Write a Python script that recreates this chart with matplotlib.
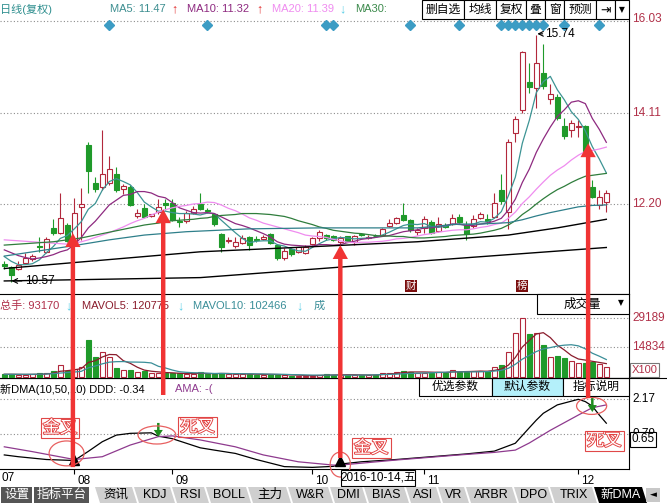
import matplotlib
matplotlib.use('Agg')
import matplotlib.pyplot as plt
import matplotlib.patheffects as pe
import matplotlib.transforms as mtransforms
from matplotlib.patches import Rectangle, Ellipse, Polygon, ConnectionPatch

plt.rcParams['font.family'] = ['Liberation Sans', 'Noto Sans CJK SC', 'DejaVu Sans']
plt.rcParams['font.size'] = 8

# ---------------- data ----------------
opens = [10.95, 10.88, 10.84, 10.97, 11.05, 11.33, 11.20, 11.70, 11.59, 11.76,
         11.43, 12.14, 13.43, 12.64, 12.55, 12.64, 12.83, 12.51, 12.56, 11.95,
         12.12, 11.95, 12.04, 12.22, 12.23, 11.85, 11.84, 12.02, 12.20, 12.08,
         11.99, 11.57, 11.42, 11.32, 11.39, 11.50, 11.46, 11.47, 11.57, 11.34,
         11.06, 11.26, 11.20, 11.18, 11.36, 11.48, 11.55, 11.53, 11.41, 11.52,
         11.41, 11.56, 11.49, 11.53, 11.55, 11.73, 11.80, 11.97, 11.86, 11.62,
         11.69, 11.83, 11.64, 11.76, 11.78, 11.93, 11.76, 11.73, 11.90, 11.88,
         11.93, 12.49, 12.04, 13.68, 14.17, 14.76, 14.62, 14.95, 14.39, 14.43,
         13.83, 13.75, 13.82, 13.83, 12.56, 12.18, 12.25]
highs = [11.00, 10.90, 11.00, 11.17, 11.15, 11.50, 11.50, 11.89, 12.43, 11.80,
         12.33, 12.53, 13.50, 12.77, 13.75, 13.20, 12.97, 12.62, 12.60, 12.10,
         12.20, 12.00, 12.30, 12.30, 12.30, 11.93, 12.05, 12.16, 12.42, 12.12,
         12.02, 11.60, 11.50, 11.50, 11.55, 11.52, 11.52, 11.55, 11.60, 11.36,
         11.28, 11.28, 11.31, 11.35, 11.50, 11.66, 11.58, 11.56, 11.52, 11.54,
         11.56, 11.60, 11.56, 11.57, 11.70, 11.88, 11.93, 12.22, 11.88, 11.70,
         11.95, 11.86, 11.92, 11.80, 12.00, 12.00, 11.85, 11.98, 12.03, 12.00,
         12.42, 12.83, 13.55, 14.05, 15.40, 15.14, 15.74, 15.55, 14.72, 14.50,
         14.00, 13.95, 13.95, 13.85, 12.70, 12.50, 12.50]
lows = [10.85, 10.57, 10.82, 10.95, 11.00, 11.20, 11.18, 11.55, 11.57, 11.41,
        11.41, 11.45, 12.43, 12.45, 12.50, 12.60, 12.45, 12.40, 12.15, 11.90,
        11.90, 11.92, 12.00, 12.08, 11.85, 11.72, 11.80, 12.00, 12.07, 12.02,
        11.75, 11.20, 11.38, 11.27, 11.36, 11.24, 11.40, 11.45, 11.36, 11.02,
        11.02, 11.12, 11.18, 11.16, 11.34, 11.42, 11.45, 11.43, 11.37, 11.40,
        11.35, 11.52, 11.47, 11.50, 11.53, 11.71, 11.78, 11.84, 11.62, 11.55,
        11.60, 11.58, 11.62, 11.70, 11.76, 11.80, 11.45, 11.70, 11.88, 11.78,
        11.90, 12.20, 11.68, 13.50, 14.10, 14.53, 14.20, 14.60, 14.30, 13.95,
        13.55, 13.60, 13.60, 13.25, 12.33, 12.10, 12.04]
closes = [10.90, 10.72, 10.92, 11.08, 11.11, 11.30, 11.47, 11.59, 11.91, 11.43,
          12.01, 12.20, 12.88, 12.51, 12.83, 12.93, 12.49, 12.58, 12.18, 12.02,
          11.93, 11.99, 12.14, 12.18, 11.86, 11.82, 12.01, 12.09, 12.09, 12.05,
          11.78, 11.31, 11.44, 11.40, 11.48, 11.34, 11.44, 11.51, 11.38, 11.06,
          11.22, 11.15, 11.29, 11.31, 11.48, 11.62, 11.48, 11.45, 11.48, 11.41,
          11.52, 11.55, 11.51, 11.52, 11.67, 11.80, 11.90, 11.86, 11.65, 11.65,
          11.88, 11.60, 11.79, 11.72, 11.90, 11.83, 11.57, 11.88, 11.99, 11.84,
          12.23, 12.27, 13.50, 13.97, 15.37, 14.65, 15.14, 14.67, 14.50, 13.99,
          13.62, 13.89, 13.84, 13.29, 12.35, 12.35, 12.44]

ma5 = [11.10, 11.00, 10.93, 10.93, 10.95, 11.03, 11.18, 11.31, 11.48, 11.54,
       11.68, 11.83, 12.09, 12.21, 12.49, 12.67, 12.73, 12.67, 12.60, 12.44,
       12.24, 12.14, 12.05, 12.05, 12.02, 12.00, 12.00, 11.99, 11.97, 12.01,
       12.00, 11.86, 11.73, 11.60, 11.48, 11.39, 11.42, 11.43, 11.43, 11.35,
       11.32, 11.26, 11.22, 11.21, 11.29, 11.37, 11.44, 11.47, 11.50, 11.49,
       11.47, 11.48, 11.49, 11.50, 11.55, 11.61, 11.68, 11.75, 11.78, 11.77,
       11.79, 11.73, 11.71, 11.73, 11.78, 11.77, 11.76, 11.78, 11.83, 11.82,
       11.90, 12.04, 12.37, 12.76, 13.47, 13.95, 14.53, 14.76, 14.87, 14.59,
       14.38, 14.13, 13.97, 13.73, 13.40, 13.14, 12.85]
ma10 = [11.24, 11.18, 11.12, 11.08, 11.05, 11.07, 11.10, 11.14, 11.20, 11.24,
        11.35, 11.50, 11.70, 11.84, 12.01, 12.18, 12.28, 12.38, 12.40, 12.46,
        12.46, 12.43, 12.36, 12.33, 12.23, 12.12, 12.07, 12.02, 12.01, 12.02,
        12.00, 11.93, 11.86, 11.79, 11.75, 11.70, 11.64, 11.58, 11.51, 11.41,
        11.36, 11.34, 11.33, 11.32, 11.32, 11.35, 11.35, 11.34, 11.35, 11.39,
        11.42, 11.46, 11.48, 11.50, 11.52, 11.54, 11.58, 11.62, 11.64, 11.66,
        11.70, 11.70, 11.73, 11.75, 11.78, 11.78, 11.75, 11.75, 11.78, 11.80,
        11.84, 11.90, 12.07, 12.30, 12.65, 12.93, 13.28, 13.56, 13.81, 14.03,
        14.17, 14.33, 14.36, 14.30, 13.99, 13.76, 13.49]
ma20 = [11.45, 11.44, 11.43, 11.42, 11.41, 11.40, 11.39, 11.38, 11.37, 11.36,
        11.38, 11.41, 11.45, 11.50, 11.55, 11.60, 11.66, 11.72, 11.79, 11.85,
        11.90, 11.97, 12.03, 12.08, 12.12, 12.15, 12.17, 12.20, 12.21, 12.24,
        12.23, 12.18, 12.11, 12.06, 11.99, 11.91, 11.86, 11.80, 11.76, 11.72,
        11.68, 11.64, 11.60, 11.55, 11.53, 11.52, 11.50, 11.46, 11.43, 11.40,
        11.39, 11.40, 11.40, 11.41, 11.42, 11.44, 11.47, 11.48, 11.50, 11.53,
        11.56, 11.58, 11.61, 11.63, 11.65, 11.66, 11.66, 11.68, 11.71, 11.73,
        11.77, 11.80, 11.90, 12.03, 12.21, 12.35, 12.51, 12.66, 12.80, 12.91,
        13.00, 13.12, 13.22, 13.30, 13.32, 13.35, 13.39]
ma30 = [11.34, 11.35, 11.36, 11.37, 11.38, 11.39, 11.40, 11.41, 11.43, 11.45,
        11.47, 11.49, 11.52, 11.55, 11.58, 11.61, 11.64, 11.67, 11.70, 11.73,
        11.76, 11.78, 11.80, 11.83, 11.85, 11.86, 11.87, 11.88, 11.90, 11.91,
        11.94, 11.96, 11.97, 11.98, 12.00, 12.00, 12.00, 11.99, 11.98, 11.96,
        11.94, 11.90, 11.85, 11.81, 11.77, 11.72, 11.69, 11.65, 11.63, 11.61,
        11.59, 11.58, 11.56, 11.54, 11.53, 11.53, 11.52, 11.52, 11.50, 11.49,
        11.49, 11.50, 11.51, 11.52, 11.54, 11.55, 11.56, 11.57, 11.59, 11.62,
        11.65, 11.69, 11.76, 11.85, 11.98, 12.08, 12.20, 12.31, 12.41, 12.50,
        12.57, 12.65, 12.72, 12.78, 12.80, 12.82, 12.84]
ma60_idx = [0, 5, 10, 15, 20, 26, 35, 45, 52, 59, 62, 65, 68, 72, 74, 76, 78, 80, 82, 84, 86]
ma60 = [11.11, 11.22, 11.33, 11.45, 11.55, 11.62, 11.68, 11.70, 11.70, 11.70, 11.74,
        11.78, 11.78, 11.81, 11.87, 11.95, 12.02, 12.08, 12.14, 12.17, 12.18]
ma120_idx = [0, 28, 46, 59, 72, 79, 86]
ma120 = [10.85, 11.20, 11.32, 11.41, 11.55, 11.70, 11.88]
ma250_idx = [0, 28, 59, 72, 86]
ma250 = [10.59, 10.66, 11.00, 11.14, 11.29]

volumes = [1630, 1630, 1140, 1140, 1630, 1980, 2280, 3120, 5940, 3120,
           3960, 5250, 18460, 10200, 12380, 10200, 4750, 3610, 3610, 2770,
           3120, 1980, 1980, 1980, 1980, 1980, 1630, 1630, 2620, 1490,
           1630, 2130, 1490, 1630, 1490, 1630, 1240, 1240, 1630, 1200,
           1000, 800, 800, 700, 800, 1300, 1700, 1300, 932, 1140,
           1300, 1300, 1000, 1140, 2280, 2280, 2770, 3120, 2770, 2280,
           2280, 2280, 2770, 2280, 3610, 2770, 2770, 3120, 3120, 3120,
           4950, 6090, 12670, 22080, 29189, 21430, 21760, 16000, 9900, 10550,
           9400, 8220, 7230, 7200, 7570, 6580, 5250]
mavol5 = [1500, 1500, 1450, 1400, 1434, 1504, 1634, 2030, 2990, 3288,
          3684, 4278, 7346, 8198, 10050, 11298, 11198, 8228, 6910, 4988,
          3572, 3018, 2692, 2366, 2208, 1980, 1910, 1840, 1968, 1870,
          1800, 1900, 1872, 1674, 1674, 1674, 1496, 1446, 1446, 1388,
          1262, 1174, 1086, 900, 820, 880, 1060, 1160, 1206, 1274,
          1274, 1194, 1134, 1176, 1404, 1600, 1894, 2318, 2644, 2644,
          2644, 2546, 2476, 2378, 2644, 2742, 2840, 2910, 3078, 2980,
          3416, 4080, 5990, 9782, 14996, 18292, 21426, 22092, 19656, 15928,
          13522, 10814, 9060, 8520, 7924, 7360, 6766]
mavol10 = [1500, 1500, 1500, 1500, 1500, 1550, 1650, 1800, 2100, 2361,
           2594, 2956, 4688, 5594, 6669, 7491, 7738, 7787, 7554, 7519,
           7435, 7108, 5460, 4638, 3598, 2776, 2464, 2266, 2167, 2039,
           1890, 1905, 1856, 1821, 1772, 1737, 1698, 1659, 1560, 1531,
           1468, 1335, 1266, 1173, 1104, 1071, 1117, 1123, 1053, 1047,
           1077, 1127, 1147, 1191, 1339, 1437, 1544, 1726, 1910, 2024,
           2122, 2220, 2397, 2511, 2644, 2693, 2693, 2693, 2728, 2812,
           3079, 3460, 4450, 6430, 8988, 10854, 12753, 14041, 14719, 15462,
           15907, 16120, 15576, 14088, 11926, 10441, 8790]

ddd_idx = [0, 2, 6, 10, 12, 14, 16, 18, 21, 22, 24, 26, 28, 30, 33, 36, 40, 44, 47, 48,
           51, 56, 61, 66, 70, 73, 75, 76, 77, 79, 82, 83, 84, 85, 86]
ddd = [-0.02, -0.09, -0.20, -0.24, 0.12, 0.50, 0.76, 0.83, 0.85, 0.72, 0.62, 0.44, 0.26,
       0.17, 0.04, -0.20, -0.48, -0.51, -0.47, -0.38, -0.29, -0.20, -0.09, 0.02, 0.13,
       0.44, 1.05, 1.35, 1.62, 1.95, 2.17, 2.08, 1.90, 1.55, 1.23]
ama_idx = [0, 4, 10, 14, 18, 22, 24, 28, 33, 37, 42, 47, 48, 56, 65, 70, 73, 75, 78, 82, 84, 86]
ama = [0.30, 0.11, -0.20, -0.09, 0.37, 0.70, 0.73, 0.57, 0.30, -0.02, -0.29, -0.42,
       -0.42, -0.22, -0.02, 0.08, 0.17, 0.45, 0.95, 1.55, 1.84, 1.95]

month_idx = [10, 24, 44, 60, 82]
month_labels = ['08', '09', '10', '11', '12']
info_idx = [15, 29, 46, 47, 58, 65, 71, 72, 73, 74, 75, 76, 77, 80, 85]
price_grid = [16.03, 14.11, 12.20]
vol_grid = [29189, 14834]
dma_grid = [2.17, 0.79]

golden_idx = [10, 48]
golden_val = [-0.22, -0.26]
dead_idx = [22, 84]
dead_tip = [0.69, 1.67]
dead_top = [1.24, 2.22]

arrow_idx = [9.8, 22.7, 48.0, 83.4]
arrow_tip = [11.59, 12.09, 11.34, 13.47]     # price panel
arrow_base = [-0.50, 2.34, -0.14, 2.22]      # DMA panel

cross_text = ['金叉', '死叉', '金叉', '死叉']
cross_x = [7.96, 27.6, 52.4, 85.7]
cross_y = [1.04, 1.08, 0.25, 0.53]
ring_x = [8.9, 21.8, 48.0, 83.9]
ring_y = [0.04, 0.765, -0.40, 1.91]
ring_w = [5.0, 5.4, 2.9, 4.3]
ring_h = [0.98, 0.71, 0.98, 0.67]

# ---------------- figure ----------------
W, H = 667, 504
RED = '#b2283c'
GREEN = '#1f9a2a'
ARROW = '#f03434'
LABEL = '#b03048'
CYAN = '#5ccfe8'

fig = plt.figure(figsize=(W / 100, H / 100), dpi=100)


def box(x0, y0, x1, y1):
    return [x0 / W, 1 - y1 / H, (x1 - x0) / W, (y1 - y0) / H]


ax_p = fig.add_axes(box(0, 19, 629, 294))
ax_v = fig.add_axes(box(0, 294, 629, 378))
ax_d = fig.add_axes(box(0, 378, 629, 469))
for ax in (ax_p, ax_v, ax_d):
    ax.set_xlim(-0.614, 89.24)
    ax.set_facecolor('none')
    ax.spines['top'].set_visible(False)
    ax.spines['left'].set_visible(False)
    ax.spines['right'].set_linewidth(0.8)
    ax.spines['bottom'].set_linewidth(0.8)
    ax.set_yticks([])
ax_p.set_xticks([])
ax_v.set_xticks([])
ax_p.set_ylim(10.317, 16.07)
ax_v.set_ylim(-346, 41234)
ax_d.set_ylim(-0.574, 3.009)

n = len(closes)
x = list(range(n))

# candles
up = [c >= o for o, c in zip(opens, closes)]
cols = [RED if u else GREEN for u in up]
body_lo = [min(o, c) for o, c in zip(opens, closes)]
body_hi = [max(o, c) for o, c in zip(opens, closes)]
body_h = [max(h - l, 0.012) for h, l in zip(body_hi, body_lo)]
ax_p.vlines(x, lows, body_lo, colors=cols, lw=0.8)
ax_p.vlines(x, body_hi, highs, colors=cols, lw=0.8)
ax_p.bar(x, body_h, bottom=body_lo, width=0.72,
         color=['white' if u else GREEN for u in up], edgecolor=cols, lw=0.8, zorder=3)

ax_p.plot(x, ma5, color='#3d9494', lw=0.9, zorder=4)
ax_p.plot(x, ma10, color='#8e2a80', lw=0.9, zorder=4)
ax_p.plot(x, ma20, color='#ef8cef', lw=0.9, zorder=4)
ax_p.plot(x, ma30, color='#2f7d3c', lw=0.9, zorder=4)
ax_p.plot(ma60_idx, ma60, color='#2e7f8a', lw=0.9, zorder=4)
ax_p.plot(ma120_idx, ma120, color='black', lw=1.0, zorder=4)
ax_p.plot(ma250_idx, ma250, color='black', lw=1.0, zorder=4)

grid_style = dict(color='#8c8c8c', lw=0.8, ls=(0, (1, 2)), zorder=1)
tp = mtransforms.blended_transform_factory(ax_p.transAxes, ax_p.transData)
for v in price_grid:
    ax_p.axhline(v, **grid_style)
    ax_p.text(1.005, v + (0.03 if v > 16 else 0), f'{v:.2f}', transform=tp, color=LABEL,
              va='center', ha='left', fontsize=8.5, clip_on=False)

td = mtransforms.blended_transform_factory(ax_p.transData, ax_p.transAxes)
ax_p.plot(info_idx, [0.978] * len(info_idx), ls='none', marker='D', ms=4.6,
          color='#3c9cc4', transform=td, clip_on=False)
ax_p.annotate('15.74', xy=(76.15, 15.76), xytext=(77.3, 15.76), va='center', ha='left',
              fontsize=8.5, arrowprops=dict(arrowstyle='->', lw=0.8, color='black',
                                            shrinkA=0, shrinkB=0))
ax_p.annotate('10.57', xy=(1.05, 10.59), xytext=(2.9, 10.59), va='center', ha='left',
              fontsize=8.5, arrowprops=dict(arrowstyle='->', lw=0.8, color='black',
                                            shrinkA=0, shrinkB=0))
for s, xi in (('财', 58.1), ('榜', 74.0)):
    ax_p.text(xi, 0.03, s, transform=td, color='white', fontsize=7.5, ha='center', va='center',
              bbox=dict(boxstyle='square,pad=0.08', fc='#7a0e0e', ec='none'))

# volume
ax_v.bar(x, volumes, width=0.72, color=['white' if u else GREEN for u in up],
         edgecolor=cols, lw=0.8, zorder=3)
ax_v.plot(x, mavol5, color='#8a1c2c', lw=0.9, zorder=4)
ax_v.plot(x, mavol10, color='#3a8e98', lw=0.9, zorder=4)
tv = mtransforms.blended_transform_factory(ax_v.transAxes, ax_v.transData)
for v in vol_grid:
    ax_v.axhline(v, **grid_style)
    ax_v.text(1.005, v, str(v), transform=tv, color=LABEL, va='center', ha='left',
              fontsize=8.5, clip_on=False)

# DMA
ax_d.plot(ddd_idx, ddd, color='black', lw=0.9, zorder=4)
ax_d.plot(ama_idx, ama, color='#8e3a8e', lw=0.9, zorder=4)
tdd = mtransforms.blended_transform_factory(ax_d.transAxes, ax_d.transData)
# the lower grid label sits half hidden behind the 0.65 value tag
hidden_part = mtransforms.Bbox([[629, H - 432], [W, H]])
for v in dma_grid:
    ax_d.axhline(v, **grid_style)
    t = ax_d.text(1.005, v, f'{v:.2f}', transform=tdd, color='black', va='center', ha='left',
                  fontsize=8.5, clip_on=False)
    if v < 1:
        t.set_clip_on(True)
        t.set_clip_box(hidden_part)
ax_d.plot(golden_idx, golden_val, ls='none', marker='^', ms=6.5, color='black', zorder=6)
for xi, tip, top in zip(dead_idx, dead_tip, dead_top):
    ax_d.annotate('', xy=(xi, tip), xytext=(xi, top),
                  arrowprops=dict(arrowstyle='simple,head_length=5,head_width=6.5,tail_width=1.8',
                                  mutation_scale=1, color='#1e8c1e', lw=0, shrinkA=0, shrinkB=0),
                  zorder=6)
for cx, cy, w, h in zip(ring_x, ring_y, ring_w, ring_h):
    ax_d.add_patch(Ellipse((cx, cy), w, h, fill=False, ec='#e86060', lw=0.9,
                           clip_on=False, zorder=7))
for s, cx, cy in zip(cross_text, cross_x, cross_y):
    ax_d.text(cx, cy, s, fontsize=12.5, color='white', ha='center', va='center', zorder=8,
              path_effects=[pe.withStroke(linewidth=1.3, foreground='#e23c3c')],
              bbox=dict(boxstyle='square,pad=0.12', fc='none', ec='#e04848', lw=0.8),
              clip_on=False)

ax_d.set_xticks(month_idx, month_labels)
ax_d.tick_params(axis='x', direction='out', length=3.5, width=0.8, pad=0.5, labelsize=8.5)
for lab in ax_d.get_xticklabels():
    lab.set_ha('left')
    lab.set_transform(lab.get_transform() +
                      mtransforms.ScaledTranslation(2 / 72, 0, fig.dpi_scale_trans))

# red arrows joining the panels
for xi, tip, base in zip(arrow_idx, arrow_tip, arrow_base):
    con = ConnectionPatch(xyA=(xi, base), coordsA=ax_d.transData,
                          xyB=(xi, tip), coordsB=ax_p.transData,
                          arrowstyle='simple,head_length=10,head_width=11,tail_width=3.2',
                          mutation_scale=1, color=ARROW, lw=0, shrinkA=0, shrinkB=0, zorder=10)
    fig.add_artist(con)

# ---------------- UI chrome (pixel coordinates) ----------------
ui = fig.add_axes([0, 0, 1, 1], zorder=3)
ui.set_xlim(0, W)
ui.set_ylim(H, 0)
ui.axis('off')
ui.set_facecolor('none')


def btn(x0, y0, x1, y1, label, fc='white', tc='black', size=8.5, ec='black', family=None):
    ui.add_patch(Rectangle((x0, y0), x1 - x0, y1 - y0, fc=fc, ec=ec, lw=0.8))
    kw = dict(family=family) if family else {}
    ui.text((x0 + x1) / 2, (y0 + y1) / 2, label, ha='center', va='center',
            color=tc, fontsize=size, **kw)


def row(items, y):
    for s, xx, c in items:
        arrow = s in ('↑', '↓')
        ui.text(xx, y, s, color=c, ha='left', va='center', fontsize=9 if arrow else 8,
                weight='bold' if arrow else 'normal')


row([('日线(复权)', 0, '#2f8f8f'), ('MA5: 11.47', 110, '#3d8e90'), ('↑', 171, '#e23030'),
     ('MA10: 11.32', 187, '#8e2a80'), ('↑', 256, '#e23030'), ('MA20: 11.39', 272, '#f08cf0'),
     ('↓', 339, CYAN), ('MA30:', 355, '#3c8a4c')], 9.5)
row([('总手: 93170', 0, '#b0304a'), ('↓', 65, CYAN), ('MAVOL5: 120775', 82, '#8a1c2c'),
     ('↓', 177, CYAN), ('MAVOL10: 102466', 193, '#3a8e98'), ('↓', 296, CYAN),
     ('成', 314, '#3a8e98')], 306)
row([('新DMA(10,50,10) DDD: -0.34', 0, 'black'), ('↑', 159, '#e23030'),
     ('AMA: -(', 175, '#8e3a8e')], 389)

toolbar = [('删自选', 422, 464), ('均线', 464, 496), ('复权', 496, 526), ('叠', 526, 545),
           ('窗', 545, 564), ('预测', 564, 596)]
for s, x0, x1 in toolbar:
    btn(x0, 0, x1, 19, s, size=8.5)
btn(596, 0, 615, 19, '⇥', size=9, family='DejaVu Sans')
btn(615, 0, 629, 19, '▼', size=5.5, family='DejaVu Sans')

ui.add_patch(Rectangle((537, 294), 92, 20, fc='white', ec='black', lw=0.8))
ui.text(582, 304.5, '成交量', ha='center', va='center', fontsize=9)
ui.text(621, 302.5, '▼', ha='center', va='center', fontsize=5.5, family='DejaVu Sans')
btn(630, 363, 659, 377, 'X100', tc=LABEL, size=8, ec='#777777')
ui.plot([0, W], [378, 378], color='black', lw=0.8)

btn(419, 378, 492, 396, '优选参数')
btn(492, 378, 563, 396, '默认参数', fc='#b4f0fa')
btn(563, 378, 629, 396, '指标说明')
btn(630, 432, 656, 447, '0.65', size=8.5)

ui.text(1, 478, '07', ha='left', va='center', fontsize=8.5)
btn(341, 470, 415, 486, '2016-10-14,五', size=8.5)

# bottom tabs
btn(1, 487, 32, 503, '设置', fc='#555555', tc='white', size=9, ec='none')
btn(34, 487, 89, 503, '指标平台', fc='#555555', tc='white', size=9, ec='none')
tabs = [('资讯', 95, 132), ('KDJ', 134, 170), ('RSI', 172, 204), ('BOLL', 206, 246),
        ('主力', 248, 286), ('W&R', 288, 328), ('DMI', 330, 362), ('BIAS', 364, 404),
        ('ASI', 406, 436), ('VR', 438, 464), ('ARBR', 466, 512), ('DPO', 514, 548),
        ('TRIX', 550, 592), ('新DMA', 594, 642)]
for s, x0, x1 in tabs:
    dark = s == '新DMA'
    ui.add_patch(Polygon([(x0, 487), (x1, 487), (x1 + 5, 503), (x0 + 5, 503)], closed=True,
                         fc='black' if dark else '#cfcfcf', ec='none'))
    ui.text((x0 + x1) / 2 + 2.5, 495, s, ha='center', va='center', fontsize=9,
            color='white' if dark else 'black')
btn(646, 488, 660, 502, '◄', fc='#c8c8c8', size=6.5, ec='none', family='DejaVu Sans')

fig.savefig('out.png', dpi=100)
